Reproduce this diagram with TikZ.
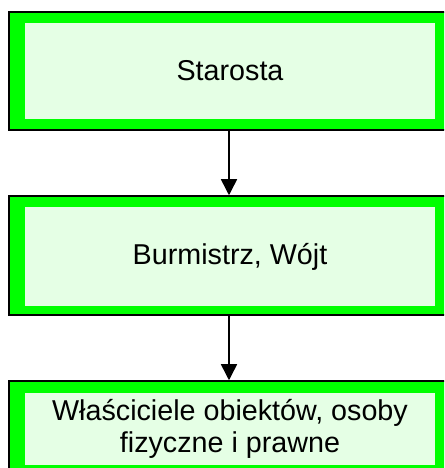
\documentclass[tikz,border=0pt]{standalone}
\usepackage{fontspec}
\setmainfont{Liberation Sans}
\usetikzlibrary{arrows.meta}

\definecolor{ramka}{RGB}{0,255,0}
\definecolor{tlo}{RGB}{229,255,229}

\tikzset{
  ramkabox/.style={shape=rectangle,draw=black,fill=ramka,line width=1.5pt,minimum width=440pt,inner sep=0pt},
  tlobox/.style={shape=rectangle,fill=tlo,align=center,minimum width=410pt,inner sep=0pt,font=\fontsize{28.7}{32}\selectfont},
  strzalka/.style={-{Triangle[width=16pt,length=16pt]},draw=black,line width=1.5pt}
}

\begin{document}
\begin{tikzpicture}[x=1pt,y=1pt]
\useasboundingbox (0,0) rectangle (444,468);
\clip (0,0) rectangle (444,468);
\fill[white] (0,0) rectangle (444,468);

\node[ramkabox,minimum height=118pt] (starosta) at (229,397) {};
\node[tlobox,minimum height=96pt] (starostaTxt) at (230,397) {Starosta};

\node[ramkabox,minimum height=119pt] (burmistrz) at (229,212.5) {};
\node[tlobox,minimum height=99pt] (burmistrzTxt) at (230,211.5) {Burmistrz, Wójt};

\node[ramkabox,minimum height=96pt] (wlasciciele) at (229,39) {};
\node[tlobox,minimum height=72pt] (wlascicieleTxt) at (230,39) {Właściciele obiektów, osoby\\fizyczne i prawne};

\path [strzalka] (starosta) edge node {} (burmistrz);
\path [strzalka] (burmistrz) edge node {} (wlasciciele);
\end{tikzpicture}
\end{document}
